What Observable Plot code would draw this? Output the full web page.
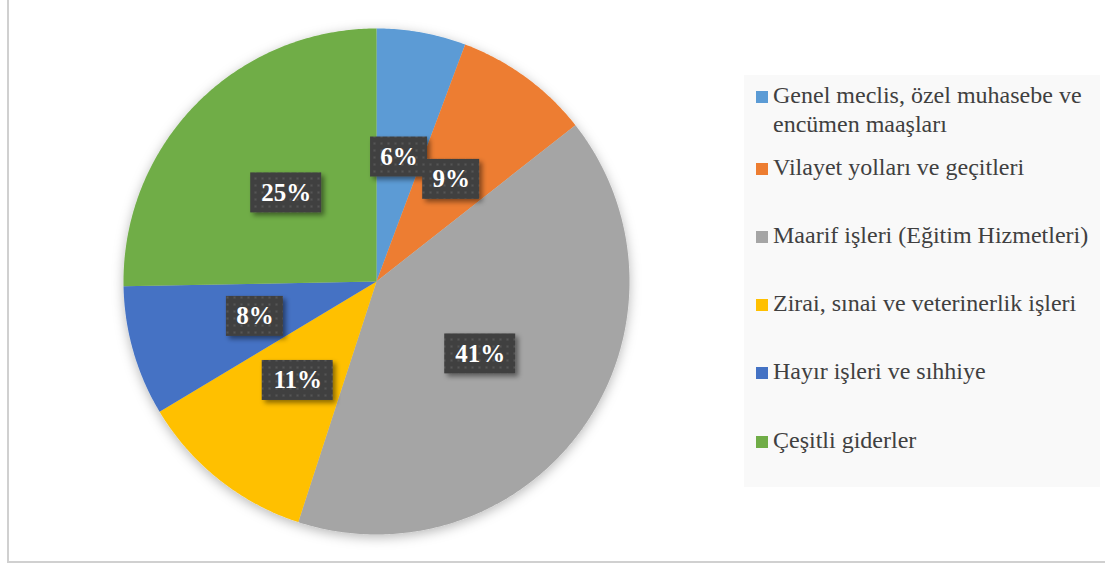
<!DOCTYPE html>
<html>
<head>
<meta charset="utf-8">
<script src="https://cdn.jsdelivr.net/npm/d3@7"></script>
<script src="https://cdn.jsdelivr.net/npm/@observablehq/plot@0.6"></script>
<style>
  html, body { margin: 0; padding: 0; background: #fff; overflow: hidden; }
  #chart { position: relative; width: 1105px; height: 564px; overflow: hidden; }
  #frame { position: absolute; left: 7px; top: -10px; width: 1120px; height: 573px; border: 2px solid #d0d0d0; box-sizing: border-box; pointer-events: none; }
  #plot { position: absolute; left: 0; top: 0; }
  #legend { position: absolute; left: 744px; top: 75px; width: 356px; height: 412px; background: #f9f9f9; font-family: "Liberation Serif", "Times New Roman", serif; font-size: 24px; line-height: 29px; color: #404040; }
  .item { position: absolute; left: 12px; display: flex; align-items: flex-start; }
  .swatch { width: 12px; height: 12px; margin-top: 10px; margin-right: 5px; flex: none; }
  .label { width: 325px; white-space: normal; }
</style>
</head>
<body>
<div id="chart">
  <div id="plot"></div>
  <div id="legend"></div>
  <div id="frame"></div>
</div>
<script>
// ---- data ----
const categories = [
  "Genel meclis, özel muhasebe ve encümen maaşları",
  "Vilayet yolları ve geçitleri",
  "Maarif işleri (Eğitim Hizmetleri)",
  "Zirai, sınai ve veterinerlik işleri",
  "Hayır işleri ve sıhhiye",
  "Çeşitli giderler"
];
const values = [5.7, 8.7, 40.6, 11.4, 8.3, 25.3];
const colors = ["#5B9BD5", "#ED7D31", "#A5A5A5", "#FFC000", "#4472C4", "#70AD47"];

// ---- layout ----
const W = 1105, H = 564;
const CX = 376, CY = 281, R = 253;      // pie center and radius in pixels
const labelRadius = 0.5;                // label position as fraction of radius
const boxH = 40, boxW1 = 57, boxW2 = 71; // label box sizes in pixels

const total = d3.sum(values);
const arcs = d3.pie().sort(null).value(d => d)(values);

// slice polygons in unit coordinates (y up)
const slicePoints = [];
arcs.forEach((a, i) => {
  const cat = categories[i];
  slicePoints.push({x: 0, y: 0, cat});
  const n = Math.max(8, Math.ceil((a.endAngle - a.startAngle) / 0.01));
  for (let k = 0; k <= n; k++) {
    const t = a.startAngle + (a.endAngle - a.startAngle) * k / n;
    slicePoints.push({x: Math.sin(t), y: Math.cos(t), cat});
  }
  slicePoints.push({x: 0, y: 0, cat});
});

const labels = arcs.map((a, i) => {
  const m = (a.startAngle + a.endAngle) / 2;
  const text = Math.round(values[i] / total * 100) + "%";
  const bw = (text.length > 2 ? boxW2 : boxW1) / R;
  const bh = boxH / R;
  const x = labelRadius * Math.sin(m), y = labelRadius * Math.cos(m);
  return {x, y, text, x1: x - bw / 2, x2: x + bw / 2, y1: y - bh / 2, y2: y + bh / 2};
});

const plot = Plot.plot({
  width: W,
  height: H,
  margin: 0,
  x: {domain: [-CX / R, (W - CX) / R], axis: null},
  y: {domain: [-(H - CY) / R, CY / R], axis: null},
  color: {domain: categories, range: colors},
  marks: [
    Plot.line(slicePoints, {x: "x", y: "y", z: "cat", fill: "cat", stroke: "none", curve: "linear"}),
    Plot.rect(labels, {x1: "x1", x2: "x2", y1: "y1", y2: "y2", fill: "url(#dots)"}),
    Plot.text(labels, {x: "x", y: "y", text: "text", fill: "white", fontSize: 25, fontWeight: "bold", fontFamily: "Liberation Serif, Times New Roman, serif"})
  ]
});

// defs: dotted texture and shadows
const ns = "http://www.w3.org/2000/svg";
const defs = document.createElementNS(ns, "defs");
defs.innerHTML = `
  <pattern id="dots" patternUnits="userSpaceOnUse" width="7" height="7">
    <rect width="7" height="7" fill="#404040"></rect>
    <rect x="2.5" y="2.5" width="2" height="2" fill="#565656"></rect>
  </pattern>
  <filter id="pieShadow" x="-20%" y="-20%" width="140%" height="140%">
    <feDropShadow dx="0" dy="3" stdDeviation="6" flood-color="#000" flood-opacity="0.28"></feDropShadow>
  </filter>
  <filter id="boxShadow" x="-30%" y="-30%" width="160%" height="160%">
    <feDropShadow dx="3" dy="3" stdDeviation="2.5" flood-color="#000" flood-opacity="0.45"></feDropShadow>
  </filter>`;
plot.insertBefore(defs, plot.firstChild);
const lineG = plot.querySelector('g[aria-label="line"]');
if (lineG) lineG.setAttribute("filter", "url(#pieShadow)");
const rectG = plot.querySelector('g[aria-label="rect"]');
if (rectG) rectG.setAttribute("filter", "url(#boxShadow)");

document.getElementById("plot").appendChild(plot);

// legend
const legend = document.getElementById("legend");
const firstTop = 6, nextTop = 77.5, step = 68.25;
categories.forEach((c, i) => {
  const item = document.createElement("div");
  item.className = "item";
  item.style.top = (i === 0 ? firstTop : nextTop + (i - 1) * step) + "px";
  const sw = document.createElement("div");
  sw.className = "swatch";
  sw.style.background = colors[i];
  const lb = document.createElement("div");
  lb.className = "label";
  lb.textContent = c;
  item.appendChild(sw);
  item.appendChild(lb);
  legend.appendChild(item);
});
</script>
</body>
</html>
